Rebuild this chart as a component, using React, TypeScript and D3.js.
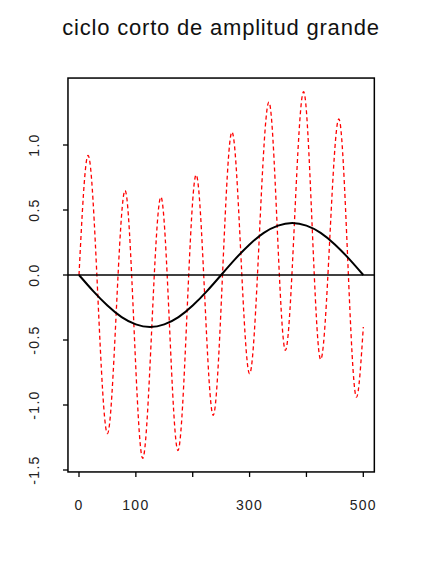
import React from 'react';
import * as d3 from 'd3';

const title = 'ciclo corto de amplitud grande';
const xTicks = [0, 100, 200, 300, 400, 500];
const xTickLabels = ['0', '100', '', '300', '', '500'];
const yTicks = [-1.5, -1, -0.5, 0, 0.5, 1];
const yTickLabels = ['-1.5', '-1.0', '-0.5', '0.0', '0.5', '1.0'];

// long smooth cycle (black)
const trendT = [0, 25, 50, 75, 100, 125, 150, 175, 200, 225, 250, 275, 300, 325, 350, 375, 400, 425, 450, 475, 500];
const trendV = [0, -0.124, -0.235, -0.324, -0.38, -0.4, -0.38, -0.324, -0.235, -0.124, 0, 0.124, 0.235, 0.324, 0.38, 0.4, 0.38, 0.324, 0.235, 0.124, 0];

// short cycle of large amplitude (red dashed): start, peaks/troughs, end
const cycleT = [0, 16, 50, 81, 112, 144, 174, 206, 236, 269, 300, 334, 363, 395, 425, 457, 488, 500];
const cycleV = [0, 0.92, -1.22, 0.65, -1.41, 0.6, -1.35, 0.77, -1.08, 1.1, -0.76, 1.33, -0.58, 1.41, -0.65, 1.2, -0.94, -0.4];

const W = 427;
const H = 566;
const font = '"Liberation Sans", Arial, Helvetica, sans-serif';

export default function App() {
  const x = d3.scaleLinear().domain([0, 500]).range([79, 363.3]);
  const y = d3.scaleLinear().domain([-1.5, 1]).range([470, 145]);
  const x0 = x(-19.4);
  const x1 = x(519.4);
  const yTop = y(1.515);
  const yBot = y(-1.515);

  const mk = (curve: d3.CurveFactory) =>
    d3
      .line<[number, number]>()
      .x((d) => x(d[0]))
      .y((d) => y(d[1]))
      .curve(curve);

  const trend = mk(d3.curveNatural)(trendT.map((t, i) => [t, trendV[i]] as [number, number])) || '';
  const cycle = mk(d3.curveMonotoneX)(cycleT.map((t, i) => [t, cycleV[i]] as [number, number])) || '';

  return (
    <svg
      width={W}
      height={H}
      viewBox={`0 0 ${W} ${H}`}
      style={{ position: 'absolute', left: 0, top: 0, background: '#fff' }}
    >
      <rect x={0} y={0} width={W} height={H} fill="#fff" />
      <text
        x={221}
        y={35}
        textAnchor="middle"
        fontFamily={font}
        fontSize={22}
        letterSpacing={0.8}
        fill="#111"
      >
        {title}
      </text>

      <clipPath id="plotclip">
        <rect x={x0} y={yTop} width={x1 - x0} height={yBot - yTop} />
      </clipPath>

      <g clipPath="url(#plotclip)">
        <path d={cycle} fill="none" stroke="#ff0000" strokeWidth={1.3} strokeDasharray="4,3" />
        <line x1={x0} x2={x1} y1={y(0)} y2={y(0)} stroke="#000" strokeWidth={1.5} />
        <path d={trend} fill="none" stroke="#000" strokeWidth={2} />
      </g>

      <rect x={x0} y={yTop} width={x1 - x0} height={yBot - yTop} fill="none" stroke="#000" strokeWidth={1.5} />

      {xTicks.map((t, i) => (
        <g key={'xt' + t}>
          <line x1={x(t)} x2={x(t)} y1={yBot} y2={yBot + 5} stroke="#000" strokeWidth={1.3} />
          {xTickLabels[i] && (
            <text
              x={x(t)}
              y={509.5}
              textAnchor="middle"
              fontFamily={font}
              fontSize={14}
              letterSpacing={1.3}
              fill="#222"
            >
              {xTickLabels[i]}
            </text>
          )}
        </g>
      ))}

      {yTicks.map((v, i) => (
        <g key={'yt' + v}>
          <line x1={x0 - 5} x2={x0} y1={y(v)} y2={y(v)} stroke="#000" strokeWidth={1.3} />
          <text
            transform={`translate(38.5, ${y(v)}) rotate(-90)`}
            textAnchor="middle"
            fontFamily={font}
            fontSize={14}
            letterSpacing={1.3}
            fill="#222"
          >
            {yTickLabels[i]}
          </text>
        </g>
      ))}
    </svg>
  );
}
